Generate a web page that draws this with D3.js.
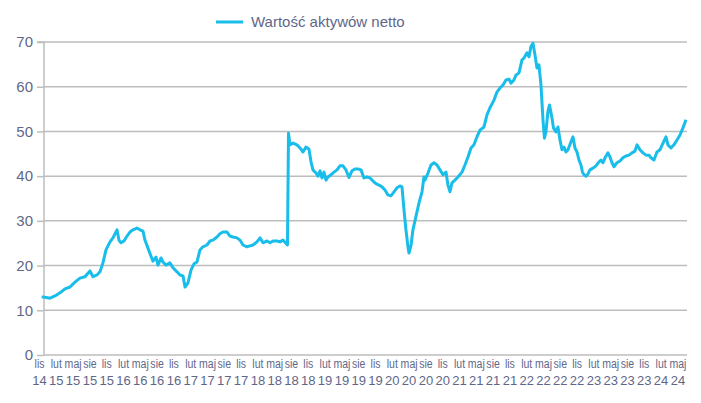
<!DOCTYPE html>
<html><head><meta charset="utf-8">
<script src="https://cdn.jsdelivr.net/npm/d3@7/dist/d3.min.js"></script>
<style>
html,body{margin:0;padding:0;background:#fff;}
svg{display:block;}
</style></head>
<body>
<script>
const seriesName = "Wartość aktywów netto";
const yTicks = [0,10,20,30,40,50,60,70];
const tickLabels = ["lis 14","lut 15","maj 15","sie 15","lis 15","lut 16","maj 16","sie 16","lis 16",
"lut 17","maj 17","sie 17","lis 17","lut 18","maj 18","sie 18","lis 18","lut 19","maj 19","sie 19","lis 19",
"lut 20","maj 20","sie 20","lis 20","lut 21","maj 21","sie 21","lis 21","lut 22","maj 22","sie 22","lis 22",
"lut 23","maj 23","sie 23","lis 23","lut 24","maj 24"];
// decimal years
const years = [2014.873,2014.922,2014.997,2015.071,2015.146,2015.220,2015.294,2015.369,2015.443,2015.518,2015.562,2015.592,2015.637,2015.696,2015.741,2015.785,2015.830,2015.890,2015.934,2015.994,
2016.023,2016.053,2016.098,2016.143,2016.187,2016.232,2016.291,2016.336,2016.381,2016.410,2016.455,2016.500,2016.529,2016.574,2016.604,2016.648,2016.678,2016.723,2016.782,2016.827,2016.887,2016.931,2016.976,
2017.006,2017.050,2017.095,2017.140,2017.184,2017.229,2017.273,2017.333,2017.378,2017.422,2017.482,2017.526,2017.571,2017.631,2017.675,2017.720,2017.779,2017.824,2017.869,2017.928,2017.973,
2018.018,2018.077,2018.122,2018.166,2018.226,2018.271,2018.315,2018.375,2018.419,2018.464,2018.531,2018.546,2018.568,2018.613,2018.672,2018.717,2018.762,2018.806,2018.851,2018.881,2018.910,2018.955,2018.985,
2019.015,2019.044,2019.074,2019.104,2019.134,2019.178,2019.223,2019.268,2019.312,2019.357,2019.401,2019.446,2019.491,2019.535,2019.580,2019.625,2019.669,2019.714,2019.759,2019.803,2019.848,2019.893,2019.937,2019.982,
2020.026,2020.071,2020.116,2020.160,2020.205,2020.235,2020.265,2020.294,2020.324,2020.339,2020.369,2020.398,2020.443,2020.488,2020.533,2020.562,2020.577,2020.622,2020.666,2020.711,2020.756,2020.800,2020.845,2020.890,2020.919,2020.949,2020.979,
2021.023,2021.068,2021.128,2021.172,2021.217,2021.262,2021.306,2021.351,2021.396,2021.455,2021.500,2021.544,2021.604,2021.648,2021.693,2021.738,2021.782,2021.827,2021.857,2021.901,2021.931,2021.976,
2022.021,2022.050,2022.095,2022.125,2022.154,2022.184,2022.214,2022.244,2022.273,2022.303,2022.333,2022.355,2022.378,2022.407,2022.430,2022.445,2022.467,2022.489,2022.526,2022.556,2022.586,2022.616,2022.646,2022.675,2022.705,2022.750,2022.779,2022.809,2022.839,2022.869,2022.898,2022.921,2022.943,2022.973,
2023.003,2023.032,2023.077,2023.122,2023.166,2023.196,2023.226,2023.256,2023.300,2023.330,2023.360,2023.390,2023.434,2023.479,2023.523,2023.568,2023.613,2023.657,2023.702,2023.732,2023.776,2023.821,2023.866,2023.910,2023.940,2023.985,
2024.029,2024.074,2024.119,2024.163,2024.193,2024.238,2024.282,2024.327,2024.372,2024.416,2024.461];
const values = [13.0,12.9,12.7,13.2,13.9,14.8,15.2,16.3,17.2,17.5,18.3,18.8,17.5,17.9,18.6,20.6,23.5,25.3,26.2,28.0,
25.7,25.1,25.5,26.6,27.5,28.0,28.4,28.0,27.7,25.7,23.9,22.1,21.0,21.9,20.1,21.7,20.8,20.1,20.6,19.5,18.6,17.9,17.7,
15.2,16.1,19.0,20.4,20.8,23.5,24.2,24.6,25.5,25.7,26.4,27.1,27.5,27.5,26.6,26.4,26.2,25.7,24.6,24.2,24.4,
24.6,25.3,26.2,25.1,25.5,25.1,25.5,25.5,25.3,25.7,24.6,49.6,47.0,47.4,47.0,46.3,45.4,46.5,46.0,43.2,41.4,40.7,40.0,
41.2,39.6,40.9,39.1,39.8,40.3,40.9,41.4,42.3,42.3,41.4,39.7,41.2,41.6,41.6,41.4,39.6,39.8,39.6,38.9,38.3,38.0,37.6,36.9,
35.8,35.6,36.5,37.4,37.8,37.6,32.4,28.0,24.2,22.8,24.5,28.0,31.0,34.0,36.5,39.8,39.1,40.7,42.5,43.0,42.5,41.4,40.3,40.9,38.0,36.5,38.5,
39.1,39.8,40.9,42.5,44.3,46.3,47.0,48.8,50.3,51.0,53.7,55.3,57.0,58.8,59.7,60.4,61.5,61.7,60.8,61.5,62.6,63.1,
66.0,66.4,67.6,66.7,69.0,69.7,67.1,64.2,64.9,60.4,52.6,48.5,50.0,54.5,55.9,54.8,53.0,50.8,49.9,51.0,48.1,45.9,46.5,45.4,45.9,47.7,48.8,46.3,45.4,43.6,42.5,40.9,40.3,40.0,
40.5,41.4,41.8,42.3,43.2,43.6,43.0,44.1,45.2,44.3,43.0,42.1,43.0,43.4,44.1,44.5,44.7,45.2,45.6,47.0,45.9,45.2,44.7,44.7,44.1,43.6,
45.4,45.9,47.4,48.8,47.0,46.3,47.0,48.1,49.2,50.8,52.6];

const monthIdx = {sty:0,lut:1,mar:2,kwi:3,maj:4,cze:5,lip:6,sie:7,wrz:8,'paź':9,lis:10,gru:11};
const tickPos = tickLabels.map(s => { const [m,y] = s.split(" "); return 2000 + (+y) + monthIdx[m]/12; });

const W = 701, H = 403;
const svg = d3.select("body").append("svg").attr("width", W).attr("height", H);
const textColor = "#5f6789";
const gridColor = "#bdbdbd";
const lineColor = "#19bdea";

const x = d3.scaleLinear().domain([tickPos[0], tickPos[tickPos.length-1]]).range([39, 677.4]);
const y = d3.scaleLinear().domain([0,70]).range([355, 42]);
const plotLeft = 44, plotRight = 687;

// gridlines
svg.append("g").selectAll("line").data(yTicks.filter(d=>d>0)).join("line")
  .attr("x1", plotLeft).attr("x2", plotRight)
  .attr("y1", d=>y(d)).attr("y2", d=>y(d))
  .attr("stroke", gridColor).attr("stroke-width", 1.5);

// y axis
const yAxis = d3.axisLeft(y).tickValues(yTicks).tickSize(7).tickPadding(4);
const gy = svg.append("g").attr("transform", `translate(${plotLeft},0)`).call(yAxis);
gy.select(".domain").attr("stroke", gridColor).attr("stroke-width", 1.5).attr("d", `M-7,${y(70)}H0V${y(0)}`);
gy.selectAll(".tick line").attr("stroke", gridColor).attr("stroke-width", 1.5);
gy.selectAll(".tick text").attr("fill", textColor).style("font-family", "'Liberation Sans', Arial, sans-serif").style("font-size", "15px").attr("x", -11);

// x axis line
svg.append("line").attr("x1", plotLeft).attr("x2", plotRight).attr("y1", y(0)).attr("y2", y(0))
  .attr("stroke", gridColor).attr("stroke-width", 1.5);

// x labels (two rows)
const xAxis = d3.axisBottom(x).tickValues(tickPos).tickSize(0).tickFormat((d,i)=>tickLabels[i]);
const gx = svg.append("g").attr("transform", `translate(0,${y(0)})`).call(xAxis);
gx.select(".domain").remove();
gx.selectAll(".tick").each(function(d,i){
  const parts = tickLabels[i].split(" ");
  const g = d3.select(this);
  g.select("text").remove();
  const ff = "'Liberation Sans Narrow', 'Arial Narrow', 'Liberation Sans', sans-serif";
  g.append("text").attr("transform", "scale(0.78,1)").attr("y", 13.5).attr("text-anchor", "middle")
    .attr("fill", textColor).style("font-family", ff).style("font-size", "13.5px").text(parts[0]);
  g.append("text").attr("y", 30).attr("text-anchor", "middle")
    .attr("fill", textColor).style("font-family", ff).style("font-size", "13px").text(parts[1]);
});

// line
const line = d3.line().x((d,i)=>x(years[i])).y(d=>y(d)).curve(d3.curveLinear);
svg.append("path").datum(values).attr("d", line)
  .attr("fill", "none").attr("stroke", lineColor).attr("stroke-width", 3).attr("stroke-linejoin", "round");

// legend
const lg = svg.append("g");
lg.append("line").attr("x1", 216).attr("x2", 243).attr("y1", 22).attr("y2", 22).attr("stroke", lineColor).attr("stroke-width", 3);
lg.append("text").attr("x", 251).attr("y", 27).text(seriesName).attr("fill", textColor)
  .style("font-family", "'Liberation Sans', Arial, sans-serif").style("font-size", "15px");
</script>
</body></html>
